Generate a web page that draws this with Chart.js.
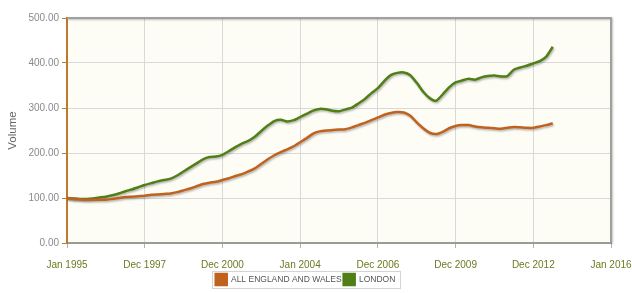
<!DOCTYPE html>
<html>
<head>
<meta charset="utf-8">
<script src="https://cdn.jsdelivr.net/npm/chart.js@4"></script>
<style>
  html, body { margin: 0; padding: 0; background: #ffffff; }
  #wrap { width: 632px; height: 293px; }
</style>
</head>
<body>
<div id="wrap"><canvas id="chart" width="632" height="293"></canvas></div>
<script>
// months since Jan 1995, one point per quarter
const months = [
  0, 3, 6, 9, 12, 15, 18, 21, 24, 27, 30, 33, 36, 39, 42, 45, 48, 51, 54, 57,
  60, 63, 66, 69, 72, 75, 78, 81, 84, 87, 90, 93, 96, 99, 102, 105, 108, 111, 114, 117,
  120, 123, 126, 129, 132, 135, 138, 141, 144, 147, 150, 153, 156, 159, 162, 165, 168, 171, 174, 177,
  180, 183, 186, 189, 192, 195, 198, 201, 204, 207, 210, 213, 216, 219, 222, 225
];

const englandWales = [
  100, 98, 97, 96, 96, 96, 96, 98, 100, 102, 103, 104, 105, 107, 108, 109, 110, 113, 117, 121,
  126, 131, 134, 136, 140, 144, 149, 153, 159, 166, 176, 186, 195, 202, 208, 215, 224, 233, 243, 248,
  250, 251, 252, 253, 257, 262, 267, 273, 279, 285, 289, 291, 290, 283, 268, 255, 245, 242, 247, 255,
  260, 262, 262, 259, 257, 256, 255, 254, 256, 258, 257, 256, 256, 259, 262, 266
];

const london = [
  100, 99, 98, 98, 99, 101, 103, 106, 110, 115, 119, 124, 129, 133, 137, 140, 143, 150, 159, 168,
  177, 186, 191, 192, 196, 204, 213, 221, 227, 236, 249, 261, 271, 274, 270, 273, 280, 287, 294, 298,
  297, 294, 293, 297, 301, 310, 320, 333, 344, 360, 373, 378, 379, 373, 356, 336, 322, 316, 330, 346,
  357, 361, 365, 363, 368, 371, 372, 370, 371, 385, 390, 394, 399, 404, 414, 436
];

const xTickLabels = ["Jan 1995", "Dec 1997", "Dec 2000", "Jan 2004", "Dec 2006", "Dec 2009", "Dec 2012", "Jan 2016"];
const seriesNames = ["ALL ENGLAND AND WALES", "LONDON"];

const toPoints = (values) => values.map((v, i) => ({ x: months[i], y: v }));

// cream plot background, top/right frame, shadow under the lines, legend box
const frame = {
  id: "frame",
  beforeDraw(chart) {
    const { ctx, chartArea: a } = chart;
    ctx.save();
    ctx.fillStyle = "#fdfcf5";
    ctx.fillRect(a.left, a.top, a.right - a.left, a.bottom - a.top);
    ctx.restore();
  },
  beforeDatasetsDraw(chart) {
    const ctx = chart.ctx;
    ctx.save();
    ctx.shadowColor = "rgba(0,0,0,0.28)";
    ctx.shadowBlur = 2;
    ctx.shadowOffsetX = 1;
    ctx.shadowOffsetY = 1.5;
  },
  afterDatasetsDraw(chart) {
    chart.ctx.restore();
  },
  afterDraw(chart) {
    const { ctx, chartArea: a } = chart;
    ctx.save();
    ctx.shadowColor = "rgba(0,0,0,0.25)";
    ctx.shadowBlur = 2;
    ctx.shadowOffsetX = 1;
    ctx.shadowOffsetY = 1;
    ctx.strokeStyle = "#a0a0a0";
    ctx.lineWidth = 2;
    ctx.beginPath();
    ctx.moveTo(a.left, a.top);
    ctx.lineTo(a.right, a.top);
    ctx.lineTo(a.right, a.bottom);
    ctx.stroke();
    ctx.restore();

    const boxes = chart.legend.legendHitBoxes;
    if (boxes && boxes.length) {
      const x0 = Math.min(...boxes.map(b => b.left)) - 4;
      const x1 = Math.max(...boxes.map(b => b.left + b.width)) + 4;
      const y0 = Math.min(...boxes.map(b => b.top)) - 3;
      const y1 = Math.max(...boxes.map(b => b.top + b.height)) + 3;
      ctx.save();
      ctx.strokeStyle = "#d4d4d4";
      ctx.lineWidth = 1;
      ctx.strokeRect(Math.round(x0) + 0.5, Math.round(y0) + 0.5, Math.round(x1 - x0), Math.round(y1 - y0));
      ctx.restore();
    }
  }
};

new Chart(document.getElementById("chart"), {
  type: "line",
  data: {
    datasets: [
      {
        label: seriesNames[0],
        data: toPoints(englandWales),
        borderColor: "#c0621e",
        backgroundColor: "#c0621e",
        borderWidth: 2.5,
        pointRadius: 0,
        tension: 0.2,
        fill: false
      },
      {
        label: seriesNames[1],
        data: toPoints(london),
        borderColor: "#4f7f16",
        backgroundColor: "#4f7f16",
        borderWidth: 2.5,
        pointRadius: 0,
        tension: 0.2,
        fill: false
      }
    ]
  },
  options: {
    responsive: false,
    animation: false,
    layout: { padding: { top: 18, right: 21, left: 0, bottom: -2 } },
    plugins: {
      tooltip: { enabled: false },
      legend: {
        position: "bottom",
        labels: {
          boxWidth: 11,
          boxHeight: 11,
          padding: 2,
          color: "#555555",
          font: { family: "Liberation Sans", size: 8.5 }
        }
      }
    },
    scales: {
      x: {
        type: "linear",
        min: 0,
        max: 252,
        ticks: {
          stepSize: 36,
          color: "#6b7a22",
          font: { family: "Liberation Sans", size: 10 },
          padding: 11,
          maxRotation: 0,
          callback: (v) => xTickLabels[Math.round(v / 36)]
        },
        grid: { color: "#d9d9d9", tickLength: 5, tickColor: "#b0b0b0" },
        border: { color: "#9a9a9a", width: 2 },
        afterFit: (scale) => {
          scale.height = 29;
          scale.paddingLeft = 0;
          scale.paddingRight = 0;
        }
      },
      y: {
        min: 0,
        max: 500,
        ticks: {
          stepSize: 100,
          color: "#8a8a8a",
          font: { family: "Liberation Sans", size: 10 },
          padding: 3,
          callback: (v) => v.toFixed(2)
        },
        grid: { color: "#d9d9d9", tickLength: 5, tickColor: "#c0782f" },
        border: { color: "#c0782f", width: 2 },
        title: {
          display: true,
          text: "Volume",
          color: "#666666",
          font: { family: "Liberation Sans", size: 11.5 },
          padding: { top: 6, bottom: 0 }
        },
        afterFit: (scale) => { scale.width = 67; }
      }
    }
  },
  plugins: [frame]
});
</script>
</body>
</html>
